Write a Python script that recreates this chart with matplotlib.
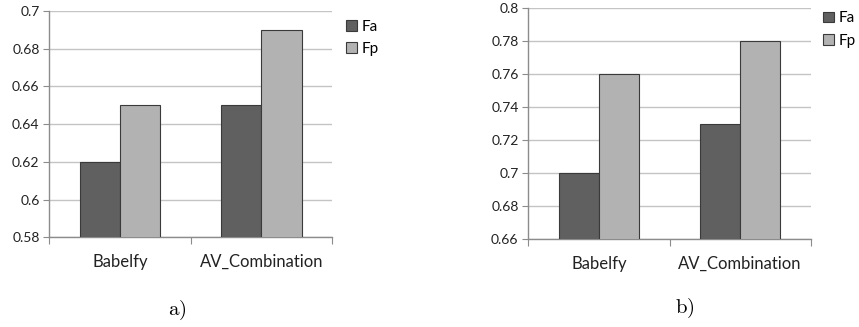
import matplotlib
matplotlib.use("Agg")
import matplotlib.pyplot as plt
import numpy as np

categories = ["Babelfy", "AV_Combination"]
series_names = ["Fa", "Fp"]

# panel a)
fa_a = [0.62, 0.65]
fp_a = [0.65, 0.69]
ticks_a = [0.58, 0.60, 0.62, 0.64, 0.66, 0.68, 0.70]
tick_labels_a = ["0.58", "0.6", "0.62", "0.64", "0.66", "0.68", "0.7"]

# panel b)
fa_b = [0.70, 0.73]
fp_b = [0.76, 0.78]
ticks_b = [0.66, 0.68, 0.70, 0.72, 0.74, 0.76, 0.78, 0.80]
tick_labels_b = ["0.66", "0.68", "0.7", "0.72", "0.74", "0.76", "0.78", "0.8"]

panel_labels = ["a)", "b)"]

plt.rcParams["font.family"] = ["Lato", "DejaVu Sans"]
plt.rcParams["mathtext.fontset"] = "cm"

DARK = "#606060"
LIGHT = "#b2b2b2"
EDGE = "#3a3a3a"
GRID = "#c4c4c4"
SPINE = "#8c8c8c"

fig = plt.figure(figsize=(8.59, 3.27), dpi=100)


def draw_panel(rect, fa, fp, ticks, tick_labels, legend_pos, label_pos, label):
    ax = fig.add_axes(rect)
    x = np.arange(len(categories))
    w = 1 / 3.5
    b1 = ax.bar(x - w / 2, fa, w, color=DARK, edgecolor=EDGE, linewidth=0.8,
                bottom=0, zorder=3)
    b2 = ax.bar(x + w / 2, fp, w, color=LIGHT, edgecolor=EDGE, linewidth=0.8,
                bottom=0, zorder=3)
    ax.set_xlim(-0.5, len(categories) - 0.5)
    ax.set_ylim(ticks[0], ticks[-1])
    ax.set_yticks(ticks)
    ax.set_yticklabels(tick_labels)
    ax.yaxis.grid(True, color=GRID, linewidth=1.0, zorder=0)
    ax.set_axisbelow(True)
    for s in ("top", "right"):
        ax.spines[s].set_visible(False)
    for s in ("left", "bottom"):
        ax.spines[s].set_color(SPINE)
        ax.spines[s].set_linewidth(1.0)
    ax.tick_params(axis="y", length=4, color=SPINE, labelsize=10,
                   labelcolor="#222222", pad=3)
    # category labels centred, tick marks at category boundaries
    ax.set_xticks(np.arange(-0.5, len(categories)), labels=[""] * (len(categories) + 1))
    ax.set_xticks(x, labels=categories, minor=True)
    ax.tick_params(axis="x", which="major", length=5, color=SPINE)
    ax.tick_params(axis="x", which="minor", length=0, labelsize=12,
                   labelcolor="#222222", pad=12)
    fig.legend([b1, b2], series_names, loc="upper left",
               bbox_to_anchor=legend_pos, frameon=False, fontsize=11,
               handlelength=0.7, handleheight=0.7, handletextpad=0.3,
               labelspacing=0.55, borderaxespad=0, borderpad=0)
    fig.text(label_pos[0], label_pos[1], r"$\mathrm{" + label + "}$",
             ha="center", va="center", fontsize=15)
    return ax


draw_panel([0.0574, 0.2743, 0.3291, 0.6921], fa_a, fp_a, ticks_a, tick_labels_a,
           (0.403, 0.94), (177 / 859, 1 - 310 / 327), panel_labels[0])
draw_panel([0.6150, 0.2691, 0.3288, 0.7055], fa_b, fp_b, ticks_b, tick_labels_b,
           (0.958, 0.965), (685 / 859, 1 - 308 / 327), panel_labels[1])

fig.savefig("out.png", dpi=100)
